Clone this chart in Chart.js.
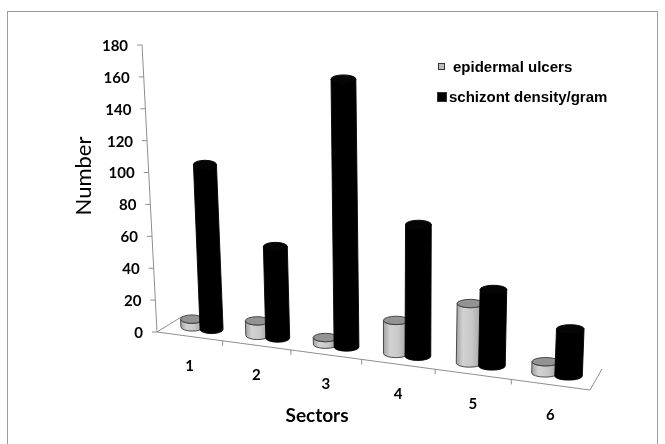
<!DOCTYPE html>
<html>
<head>
<meta charset="utf-8">
<script src="https://cdn.jsdelivr.net/npm/chart.js@4/dist/chart.umd.min.js"></script>
<style>
  html, body { margin: 0; padding: 0; background: #fff; }
  #wrap { position: relative; width: 665px; height: 444px; overflow: hidden; }
  #frame { position: absolute; left: 7px; top: 11px; width: 651px; height: 470px;
           border: 1px solid #9c9c9c; box-sizing: border-box; }
  canvas { position: absolute; left: 0; top: 0; }
</style>
</head>
<body>
<div id="wrap">
  <div id="frame"></div>
  <canvas id="chart" width="665" height="444"></canvas>
</div>
<script>
// Sectors along the category axis
const sectors = ['1', '2', '3', '4', '5', '6'];
// Series values per sector
const epidermalUlcers = [5, 9, 4, 19, 33, 6];
const schizontDensity = [105, 56, 158, 75, 42, 25];
// Value axis range
const axisMin = 0;
const axisMax = 180;
const axisStep = 20;

// 3D look: floor tilt, perspective stretch, depth of the floor and
// the point far below where the vertical edges meet
const VIEW = {
  floorDrop: 58,          // how far the front edge falls from left to right
  warp: 0.109,            // perspective stretch along the category axis
  depthLeft: [13, -8],    // half floor depth at the left end
  depthRight: [6, -10.5], // half floor depth at the right end
  vanish: { x: 400, y: 5000 },
  heightK: 1.077,         // column height factor at mid depth
  capRy: 4.2              // vertical radius of the cylinder caps
};

const TICK_FONT = 'bold 15px Lato';
const TITLE_FONT = '22px Lato';
const LEGEND_FONT = 'bold 15px "Liberation Sans", Arial, sans-serif';

const cylinderPlugin = {
  id: 'cylinder3d',
  afterDatasetsDraw(chart) {
    const { ctx, chartArea: area, scales: { y } } = chart;
    const W = area.right - area.left;
    const warp = f => f - VIEW.warp * f * (1 - f);
    const stretch = f => 1 - VIEW.warp * (1 - 2 * f);
    const front = f => ({ x: area.left + W * warp(f), y: area.bottom + VIEW.floorDrop * warp(f) });
    const depth = f => ({
      dx: VIEW.depthLeft[0] + (VIEW.depthRight[0] - VIEW.depthLeft[0]) * f,
      dy: VIEW.depthLeft[1] + (VIEW.depthRight[1] - VIEW.depthLeft[1]) * f
    });
    // horizontal shift of a vertical edge rising h pixels from (x, yb)
    const lean = (x, yb, h) => (x - VIEW.vanish.x) * h / (VIEW.vanish.y - yb);
    const n = chart.data.labels.length;

    ctx.save();
    // floor edges
    ctx.strokeStyle = '#8e8e8e';
    ctx.lineWidth = 1;
    const p0 = front(0), p1 = front(1), d0 = depth(0), d1 = depth(1);
    ctx.beginPath();
    ctx.moveTo(p0.x + 2 * d0.dx, p0.y + 2 * d0.dy);
    ctx.lineTo(p0.x, p0.y);
    ctx.lineTo(p1.x, p1.y);
    ctx.lineTo(p1.x + 2 * d1.dx, p1.y + 2 * d1.dy);
    ctx.stroke();
    // category ticks on the front edge
    ctx.beginPath();
    for (let k = 1; k < n; k++) {
      const p = front(k / n);
      ctx.moveTo(p.x, p.y);
      ctx.lineTo(p.x, p.y + 5);
    }
    ctx.stroke();

    // value axis rising from the front left corner
    const axisX = py => area.left + lean(area.left, area.bottom, area.bottom - py);
    ctx.beginPath();
    ctx.moveTo(axisX(area.bottom), area.bottom);
    ctx.lineTo(axisX(area.top), area.top);
    y.ticks.forEach(t => {
      const py = y.getPixelForValue(t.value);
      ctx.moveTo(axisX(py) - 5, py);
      ctx.lineTo(axisX(py), py);
    });
    ctx.stroke();

    ctx.fillStyle = '#000';
    ctx.font = TICK_FONT;
    ctx.textAlign = 'right';
    ctx.textBaseline = 'middle';
    y.ticks.forEach(t => {
      const py = y.getPixelForValue(t.value);
      ctx.fillText(String(t.value), axisX(py) - 14, py + 1);
    });

    // value axis title
    ctx.save();
    ctx.translate(84, 176);
    ctx.rotate(-Math.PI / 2);
    ctx.font = TITLE_FONT;
    ctx.textAlign = 'center';
    ctx.fillText(y.options.title.text, 0, 0);
    ctx.restore();

    // category labels under the floor
    ctx.textAlign = 'center';
    chart.data.labels.forEach((lab, i) => {
      const p = front((i + 0.5) / n);
      ctx.fillText(lab, p.x, p.y + 30);
    });

    // cylinders, left series first inside each sector
    const y0 = y.getPixelForValue(0);
    for (let i = 0; i < n; i++) {
      chart.data.datasets.forEach((ds, d) => {
        const el = chart.getDatasetMeta(d).data[i];
        const f = (el.x - area.left) / W;
        const s = stretch(f);
        const p = front(f), dp = depth(f);
        const cx = p.x + dp.dx;
        const by = p.y + dp.dy;
        const rx = el.width * s / 2;
        const ry = VIEW.capRy;
        const h = (y0 - y.getPixelForValue(ds.data[i])) * s * VIEW.heightK;
        const ty = by - h;
        const tx = cx + lean(cx, by, h);

        let body;
        if (ds.cylinder.gradient) {
          body = ctx.createLinearGradient(cx - rx, 0, cx + rx, 0);
          ds.cylinder.gradient.forEach(([o, c]) => body.addColorStop(o, c));
        } else {
          body = ds.cylinder.body;
        }
        ctx.beginPath();
        ctx.moveTo(tx - rx, ty);
        ctx.lineTo(cx - rx, by);
        ctx.ellipse(cx, by, rx, ry, 0, Math.PI, 0, true);
        ctx.lineTo(tx + rx, ty);
        ctx.ellipse(tx, ty, rx, ry, 0, 0, Math.PI, false);
        ctx.closePath();
        ctx.fillStyle = body;
        ctx.fill();
        ctx.strokeStyle = ds.cylinder.edge;
        ctx.lineWidth = 0.9;
        ctx.stroke();
        ctx.beginPath();
        ctx.ellipse(tx, ty, rx, ry, 0, 0, Math.PI * 2);
        ctx.fillStyle = ds.cylinder.cap;
        ctx.fill();
        ctx.stroke();
      });
    }

    // legend
    ctx.font = LEGEND_FONT;
    ctx.textAlign = 'left';
    ctx.textBaseline = 'middle';
    const legendRows = [
      { box: [438, 63, 7, 7], textX: 453, textY: 68 },
      { box: [437, 92, 10, 10], textX: 449, textY: 98 }
    ];
    chart.data.datasets.forEach((ds, d) => {
      const row = legendRows[d];
      ctx.fillStyle = ds.cylinder.legend;
      ctx.fillRect(...row.box);
      ctx.strokeStyle = '#333';
      ctx.lineWidth = 1;
      ctx.strokeRect(row.box[0] + 0.5, row.box[1] + 0.5, row.box[2] - 1, row.box[3] - 1);
      ctx.fillStyle = '#000';
      ctx.fillText(ds.label, row.textX, row.textY);
    });
    ctx.restore();
  }
};

function build() {
  new Chart(document.getElementById('chart'), {
    type: 'bar',
    data: {
      labels: sectors,
      datasets: [
        {
          label: 'epidermal ulcers',
          data: epidermalUlcers,
          backgroundColor: 'rgba(0,0,0,0)',
          borderWidth: 0,
          cylinder: {
            gradient: [[0, '#a2a2a2'], [0.25, '#d2d2d2'], [0.6, '#c8c8c8'], [1, '#9e9e9e']],
            cap: '#939393', edge: '#3a3a3a', legend: '#bdbdbd'
          }
        },
        {
          label: 'schizont density/gram',
          data: schizontDensity,
          backgroundColor: 'rgba(0,0,0,0)',
          borderWidth: 0,
          cylinder: { body: '#000', cap: '#050505', edge: '#000', legend: '#000' }
        }
      ]
    },
    options: {
      responsive: false,
      animation: false,
      devicePixelRatio: 1,
      layout: { padding: { left: 44, right: 75, top: 45, bottom: 0 } },
      datasets: { bar: { categoryPercentage: 0.6, barPercentage: 1.16 } },
      plugins: {
        legend: { display: false },
        tooltip: { enabled: false },
        title: {
          display: true,
          position: 'bottom',
          text: 'Sectors',
          color: '#000',
          font: { family: 'Lato', size: 19, weight: 'bold', lineHeight: 1.2 },
          padding: { top: 72.6, bottom: 16.6 }
        }
      },
      scales: {
        x: { display: false },
        y: {
          min: axisMin,
          max: axisMax,
          ticks: { display: false, stepSize: axisStep },
          grid: { display: false, drawTicks: false },
          border: { display: false },
          title: { display: false, text: 'Number' },
          afterFit(scale) { scale.width = 113; }
        }
      }
    },
    plugins: [cylinderPlugin]
  });
}

Promise.all([
  document.fonts.load('bold 15px Lato'),
  document.fonts.load('22px Lato'),
  document.fonts.load('bold 15px "Liberation Sans"')
]).catch(() => {}).then(build);
</script>
</body>
</html>
